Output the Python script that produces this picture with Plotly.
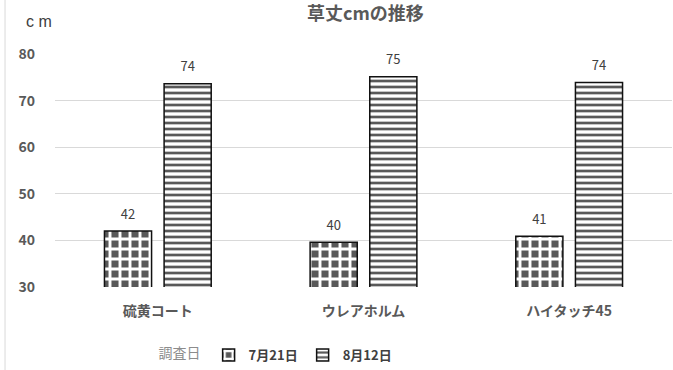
import plotly.graph_objects as go

categories = ["硫黄コート", "ウレアホルム", "ハイタッチ45"]
series_names = ["7月21日", "8月12日"]
values_0721 = [42.0, 39.6, 40.9]
values_0812 = [73.6, 75.1, 73.9]
labels_0721 = ["42", "40", "41"]
labels_0812 = ["74", "75", "74"]
y_ticks = [30, 40, 50, 60, 70, 80]

FONT = "Noto Sans CJK JP"
patterns = [
    dict(shape="+", fgcolor="white", bgcolor="#595959", size=10, solidity=0.5, fillmode="replace"),
    dict(shape="-", fgcolor="#595959", bgcolor="white", size=6, solidity=0.45, fillmode="replace"),
]

fig = go.Figure()
for i, (name, vals, labs) in enumerate(zip(series_names, [values_0721, values_0812], [labels_0721, labels_0812])):
    fig.add_trace(go.Bar(
        x=categories, y=vals, name=name, offsetgroup=str(i),
        marker=dict(color="white", line=dict(color="#111111", width=1.5), pattern=patterns[i]),
    ))
    fig.add_trace(go.Scatter(
        x=categories, y=vals, text=labs, mode="markers+text", offsetgroup=str(i),
        textposition="top center", cliponaxis=False, showlegend=False, hoverinfo="skip",
        marker=dict(size=13, opacity=0, color="white"),
        textfont=dict(family=FONT, size=13, color="#404040"),
    ))

fig.update_layout(
    width=673, height=370,
    margin=dict(l=55, r=1, t=54, b=82),
    paper_bgcolor="white", plot_bgcolor="white",
    barmode="group", bargap=0.42, bargroupgap=0.21,
    scattermode="group", scattergap=0.42,
    font=dict(family=FONT, color="#595959"),
    title=dict(text="<b>草丈cmの推移</b>", x=0.543, xanchor="center",
               y=0.962, yanchor="middle", yref="container",
               font=dict(size=18, color="#595959")),
    showlegend=True,
    legend=dict(orientation="h", x=0.36, xanchor="center", y=-0.29, yanchor="middle",
                title=dict(text="調査日", font=dict(size=14, color="#8c8c8c", weight="normal")),
                font=dict(size=13, color="#404040", family=FONT, weight="bold"),
                itemwidth=30, tracegroupgap=0),
    xaxis=dict(showgrid=False, showline=False, ticks="",
               tickfont=dict(size=14, color="#595959", family=FONT, weight="bold"),
               ticklabelstandoff=14),
    yaxis=dict(range=[30, 80], tickvals=y_ticks, showgrid=True,
               gridcolor="#d9d9d9", gridwidth=1, zeroline=False, showline=False,
               ticks="", ticklabelstandoff=19,
               tickfont=dict(size=14, color="#595959", family=FONT, weight="bold")),
    annotations=[dict(text="c m", xref="paper", yref="paper", x=-0.026, y=1.14,
                      xanchor="center", yanchor="middle", showarrow=False,
                      font=dict(size=16, color="#404040", family="Liberation Sans"))],
    shapes=[dict(type="line", xref="paper", yref="paper", x0=-0.081, x1=-0.081,
                 y0=-0.36, y1=1.3, line=dict(color="#d9d9d9", width=1))],
)

fig.write_html("out.html")
